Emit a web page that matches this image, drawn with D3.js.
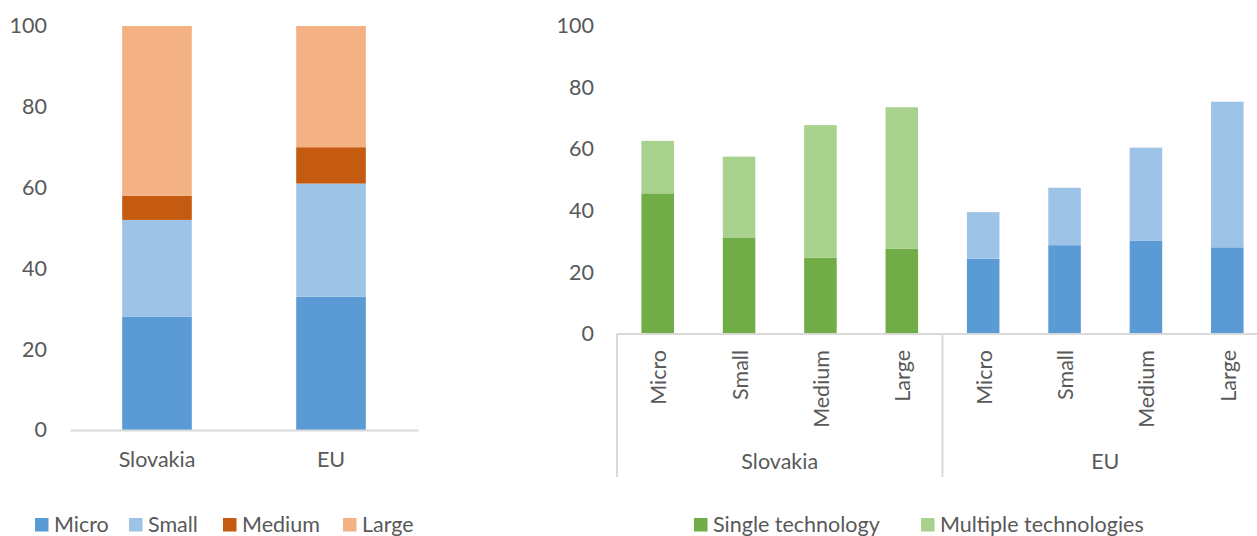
<!DOCTYPE html>
<html><head><meta charset="utf-8">
<script src="https://cdn.jsdelivr.net/npm/d3@7"></script>
<style>body{margin:0;background:#fff;} svg{display:block;}</style>
</head><body>
<svg id="c" width="1257" height="536"></svg>
<script>
// ---- Left chart data ----
const leftCategories = ["Slovakia", "EU"];
const sizeClasses = ["Micro", "Small", "Medium", "Large"];
const leftMicro  = [28, 33];
const leftSmall  = [24, 28];
const leftMedium = [6, 9];
const leftLarge  = [42, 30];
const yTicks = [0, 20, 40, 60, 80, 100];

// ---- Right chart data ----
const groups = ["Slovakia", "EU"];
const subCategories = ["Micro", "Small", "Medium", "Large"];
const skSingle   = [45.6, 31.3, 24.7, 27.6];
const skMultiple = [17.0, 26.2, 43.0, 45.9];
const euSingle   = [24.4, 28.8, 30.3, 28.1];
const euMultiple = [15.1, 18.6, 30.1, 47.2];
const techSeries = ["Single technology", "Multiple technologies"];

const FONT = "Lato, sans-serif";
const FS = 21.5;
const TXT = "#595959";
const AX = "#D9D9D9";
const svg = d3.select("#c").style("font-family", FONT);

// ================= LEFT CHART =================
(function(){
  const colors = {Micro:"#5B9BD5", Small:"#9DC3E6", Medium:"#C55A11", Large:"#F4B183"};
  const x = d3.scaleBand().domain(leftCategories).range([70, 418]).paddingInner(0.6).paddingOuter(0.3);
  const y = d3.scaleLinear().domain([0, 100]).range([430, 26]);
  const rows = leftCategories.map((c,i)=>({cat:c, Micro:leftMicro[i], Small:leftSmall[i], Medium:leftMedium[i], Large:leftLarge[i]}));
  const stack = d3.stack().keys(sizeClasses)(rows);
  const g = svg.append("g");
  stack.forEach(s=>{
    g.selectAll(null).data(s).join("rect")
      .attr("x", d=>x(d.data.cat)).attr("width", x.bandwidth())
      .attr("y", d=>y(d[1])).attr("height", d=>y(d[0])-y(d[1]))
      .attr("fill", colors[s.key]);
  });
  const ya = g.append("g").attr("transform","translate(47,0)")
    .call(d3.axisLeft(y).tickValues(yTicks).tickSize(0).tickPadding(0));
  ya.select(".domain").remove();
  ya.selectAll("text").attr("fill",TXT).style("font-size",FS+"px").style("font-family",FONT);
  const xa = g.append("g").attr("transform","translate(0,430)")
    .call(d3.axisBottom(x).tickSize(0).tickPadding(22));
  xa.select(".domain").attr("stroke",AX).attr("stroke-width",2);
  xa.selectAll("text").attr("fill",TXT).style("font-size",FS+"px").style("font-family",FONT);
  const lx = [35, 129, 223, 343];
  const lg = g.append("g");
  sizeClasses.forEach((k,i)=>{
    lg.append("rect").attr("x",lx[i]).attr("y",518).attr("width",13.5).attr("height",13.5).attr("fill",colors[k]);
    lg.append("text").attr("x",lx[i]+19).attr("y",532).attr("fill",TXT).style("font-size",FS+"px").text(k);
  });
})();

// ================= RIGHT CHART =================
(function(){
  const colors = {
    Slovakia: {"Single technology":"#70AD47", "Multiple technologies":"#A9D18E"},
    EU:       {"Single technology":"#5B9BD5", "Multiple technologies":"#9DC3E6"}
  };
  const singles = {Slovakia: skSingle, EU: euSingle};
  const multiples = {Slovakia: skMultiple, EU: euMultiple};
  const rows = [];
  groups.forEach(gr=>subCategories.forEach((s,i)=>rows.push({
    key: gr+"|"+s, group: gr, sub: s,
    "Single technology": singles[gr][i], "Multiple technologies": multiples[gr][i]
  })));
  const x = d3.scaleBand().domain(rows.map(r=>r.key)).range([617, 1268]).paddingInner(0.6).paddingOuter(0.3);
  const y = d3.scaleLinear().domain([0, 100]).range([334, 25.5]);
  const stack = d3.stack().keys(techSeries)(rows);
  const g = svg.append("g");
  stack.forEach(s=>{
    g.selectAll(null).data(s).join("rect")
      .attr("x", d=>x(d.data.key)).attr("width", x.bandwidth())
      .attr("y", d=>y(d[1])).attr("height", d=>y(d[0])-y(d[1]))
      .attr("fill", d=>colors[d.data.group][s.key]);
  });
  const ya = g.append("g").attr("transform","translate(594,0)")
    .call(d3.axisLeft(y).tickValues(yTicks).tickSize(0).tickPadding(0));
  ya.select(".domain").remove();
  ya.selectAll("text").attr("fill",TXT).style("font-size",FS+"px").style("font-family",FONT);
  g.append("line").attr("x1",617).attr("x2",1268).attr("y1",y(0)).attr("y2",y(0)).attr("stroke",AX).attr("stroke-width",2);
  const step = x.step();
  const bounds = [617, 617 + step*4, 617 + step*8];
  bounds.forEach(b=>g.append("line").attr("x1",b).attr("x2",b).attr("y1",y(0)).attr("y2",477).attr("stroke",AX).attr("stroke-width",2));
  rows.forEach(r=>{
    const cx = x(r.key) + x.bandwidth()/2;
    g.append("text").attr("transform",`translate(${cx+1},350) rotate(-90)`)
      .attr("text-anchor","end").attr("dy","0.35em").attr("fill",TXT).style("font-size",FS+"px").text(r.sub);
  });
  groups.forEach((gr,i)=>{
    g.append("text").attr("x",(bounds[i]+bounds[i+1])/2).attr("y",469).attr("text-anchor","middle")
      .attr("fill",TXT).style("font-size",FS+"px").text(gr);
  });
  const lx = [694, 921];
  const lcol = ["#70AD47", "#A9D18E"];
  techSeries.forEach((k,i)=>{
    g.append("rect").attr("x",lx[i]).attr("y",518).attr("width",13.5).attr("height",13.5).attr("fill",lcol[i]);
    g.append("text").attr("x",lx[i]+19).attr("y",532).attr("fill",TXT).style("font-size",FS+"px").text(k);
  });
})();
</script>
</body></html>
